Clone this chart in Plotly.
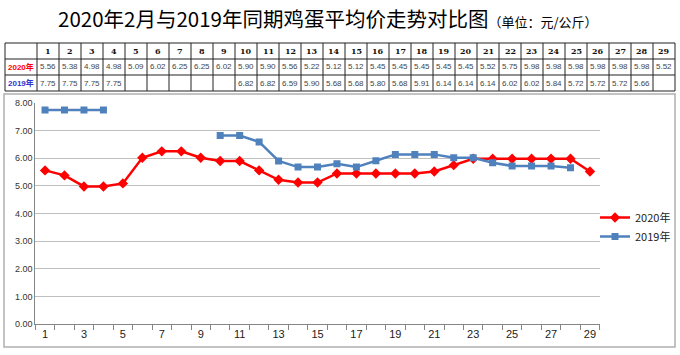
import plotly.graph_objects as go

days = list(range(1, 30))
v2020 = [5.56, 5.38, 4.98, 4.98, 5.09, 6.02, 6.25, 6.25, 6.02, 5.90, 5.90, 5.56, 5.22, 5.12,
         5.12, 5.45, 5.45, 5.45, 5.45, 5.45, 5.52, 5.75, 5.98, 5.98, 5.98, 5.98, 5.98, 5.98, 5.52]
v2019 = [7.75, 7.75, 7.75, 7.75, None, None, None, None, None, 6.82, 6.82, 6.59, 5.90, 5.68,
         5.68, 5.80, 5.68, 5.91, 6.14, 6.14, 6.14, 6.02, 6.02, 5.84, 5.72, 5.72, 5.72, 5.66, None]
series_names = ["2020年", "2019年"]
series_colors = ["#ff0000", "#4f81bd"]
label_colors = ["#ff0000", "#3333cc"]
y_ticks = [0, 1, 2, 3, 4, 5, 6, 7, 8]
x_ticks = list(range(1, 30, 2))

W, H = 680, 355
def px(x):
    return x / W
def py(y):
    return 1 - y / H

fig = go.Figure()

# ---- line chart ----
for i, vals in enumerate([v2020, v2019]):
    fig.add_trace(go.Scatter(
        x=days, y=vals, name=series_names[i], mode="lines+markers", connectgaps=False,
        line=dict(color=series_colors[i], width=2.5),
        marker=dict(symbol="diamond" if i == 0 else "square", size=8 if i == 0 else 7,
                    color=series_colors[i]),
    ))

# ---- data table (text annotations + ruling lines in page space) ----
TBL_L, TBL_R, LABEL_W, COL_W = 5, 675, 32, 22
ROW_TOP = [43, 59, 75, 91]
def col_center(d):
    return TBL_L + LABEL_W + COL_W * (d - 1) + COL_W / 2
def row_center(r):
    return (ROW_TOP[r] + ROW_TOP[r + 1]) / 2

annotations = []
shapes = []
for d in days:
    annotations.append(dict(x=px(col_center(d)), y=py(row_center(0)), text=f"<b>{d}</b>",
                            font=dict(family="DejaVu Serif", size=8, color="#111111")))
for i, vals in enumerate([v2020, v2019]):
    annotations.append(dict(x=px(TBL_L + LABEL_W / 2), y=py(row_center(i + 1)),
                            text=f"<b>{series_names[i]}</b>",
                            font=dict(family="Liberation Sans, Noto Sans CJK SC", size=8,
                                      color=label_colors[i])))
    for d, v in zip(days, vals):
        if v is not None:
            annotations.append(dict(x=px(col_center(d)), y=py(row_center(i + 1)),
                                    text=f"{v:.2f}",
                                    font=dict(family="Liberation Sans", size=8, color="#444444")))
for a in annotations:
    a.update(xref="paper", yref="paper", xanchor="center", yanchor="middle", showarrow=False)

line_style = dict(color="#222222", width=1)
for yv in ROW_TOP:
    shapes.append(dict(type="line", xref="paper", yref="paper", x0=px(TBL_L), x1=px(TBL_R),
                       y0=py(yv), y1=py(yv), line=line_style))
for xv in [TBL_L, TBL_L + LABEL_W] + [TBL_L + LABEL_W + COL_W * d for d in days]:
    shapes.append(dict(type="line", xref="paper", yref="paper", x0=px(xv), x1=px(xv),
                       y0=py(ROW_TOP[0]), y1=py(ROW_TOP[-1]), line=line_style))
shapes.append(dict(type="rect", xref="paper", yref="paper",
                   x0=px(4), x1=px(675), y0=py(347), y1=py(94),
                   line=dict(color="#b0b0b0", width=1.5), layer="below"))

annotations.append(dict(
    xref="paper", yref="paper", x=px(328), y=py(18), xanchor="center", yanchor="middle",
    showarrow=False,
    text="2020年2月与2019年同期鸡蛋平均价走势对比图<span style='font-size:13px'>（单位：元/公斤）</span>",
    font=dict(size=20.5, color="#000000", family="Noto Sans CJK SC")))

fig.update_layout(
    width=W, height=H,
    margin=dict(l=0, r=0, t=0, b=0, autoexpand=False),
    paper_bgcolor="white", plot_bgcolor="white",
    font=dict(family="Noto Sans CJK SC, DejaVu Sans", color="#333333"),
    showlegend=True,
    legend=dict(x=px(595), y=py(203), xanchor="left", yanchor="top",
                font=dict(size=11, color="#222222"), bgcolor="rgba(0,0,0,0)",
                tracegroupgap=2, itemwidth=30),
    xaxis=dict(domain=[px(35.3), px(599.7)], range=[0.5, 29.5], automargin=False,
               tickvals=x_ticks, ticktext=[str(t) for t in x_ticks], ticks="",
               showgrid=False, zeroline=False, showline=True, linecolor="#868686",
               tickfont=dict(size=11, color="#222222", family="Liberation Sans"),
               minor=dict(tick0=0.5, dtick=1, ticks="outside", ticklen=5,
                          tickcolor="#868686", showgrid=False)),
    yaxis=dict(domain=[py(324), py(103)], range=[0, 8], automargin=False,
               tickvals=y_ticks, ticktext=[f"{t:.2f}" for t in y_ticks],
               showgrid=True, gridcolor="#bfbfbf", gridwidth=1, zeroline=False,
               showline=True, linecolor="#868686", ticks="",
               tickfont=dict(size=9, color="#333333", family="Liberation Sans")),
    shapes=shapes,
    annotations=annotations,
)

fig.write_html("out.html", post_script="document.body.style.margin='0';",
               config={"displayModeBar": False})
